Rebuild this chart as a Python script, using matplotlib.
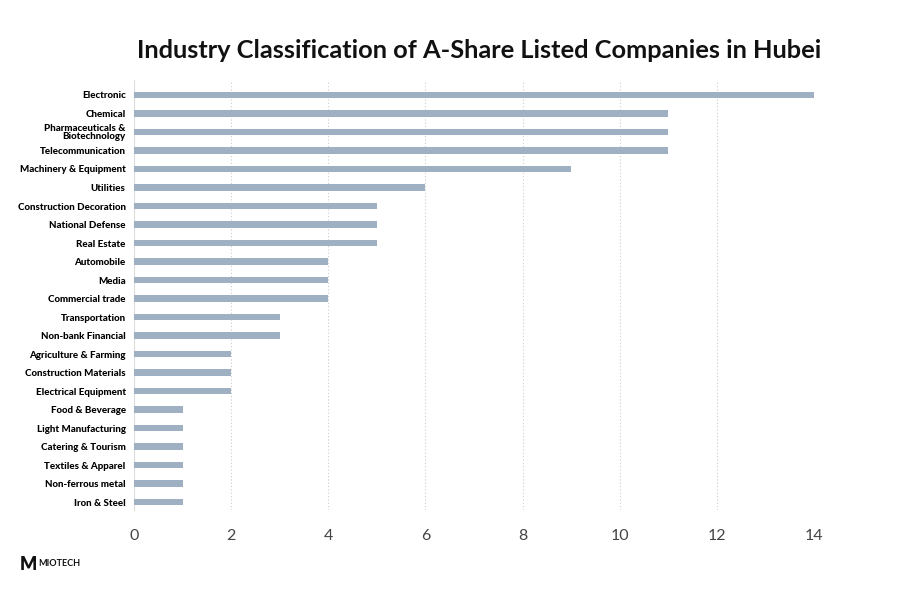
import matplotlib
matplotlib.use("Agg")
import matplotlib.pyplot as plt

industries = [
    "Electronic", "Chemical", "Pharmaceuticals &\nBiotechnology", "Telecommunication",
    "Machinery & Equipment", "Utilities", "Construction Decoration", "National Defense",
    "Real Estate", "Automobile", "Media", "Commercial trade", "Transportation",
    "Non-bank Financial", "Agriculture & Farming", "Construction Materials",
    "Electrical Equipment", "Food & Beverage", "Light Manufacturing",
    "Catering & Tourism", "Textiles & Apparel", "Non-ferrous metal", "Iron & Steel",
]
counts = [14, 11, 11, 11, 9, 6, 5, 5, 5, 4, 4, 4, 3, 3, 2, 2, 2, 1, 1, 1, 1, 1, 1]
x_ticks = [0, 2, 4, 6, 8, 10, 12, 14]

plt.rcParams['font.family'] = ['Lato', 'DejaVu Sans']

fig = plt.figure(figsize=(9.08, 5.9), dpi=100)
ax = fig.add_axes([134 / 908, 80 / 590, 680 / 908, 430 / 590])

y = list(range(len(industries)))
ax.barh(y, counts, height=0.34, color="#9fb0c2", zorder=3)
ax.set_ylim(22.43, -0.81)
ax.set_xlim(0, 14)
ax.set_yticks(y)
ax.set_yticklabels(industries, fontsize=7, fontweight="black", linespacing=0.9)
ax.set_xticks(x_ticks)
ax.set_xticklabels([str(t) for t in x_ticks], fontsize=11.5, color="#444444")
ax.tick_params(axis="y", length=0, pad=6)
ax.tick_params(axis="x", length=0, pad=14)
ax.xaxis.grid(True, linestyle=(0, (1, 2)), color="#cccccc", linewidth=0.8, zorder=0)
for s in ["top", "right", "bottom"]:
    ax.spines[s].set_visible(False)
ax.spines["left"].set_color("#dddddd")

fig.text(479 / 908, 1 - 50 / 590, "Industry Classification of A-Share Listed Companies in Hubei",
         ha="center", va="center", fontsize=18.3, fontweight="bold", color="#111111")
fig.text(38 / 908, 1 - 564 / 590, "MIOTECH", ha="left", va="center", fontsize=6.5,
         fontweight="bold", color="#111111")
fig.text(20 / 908, 1 - 564 / 590, "M", ha="left", va="center", fontsize=13,
         fontweight="heavy", color="#111111")

fig.savefig("out.png", dpi=100)
